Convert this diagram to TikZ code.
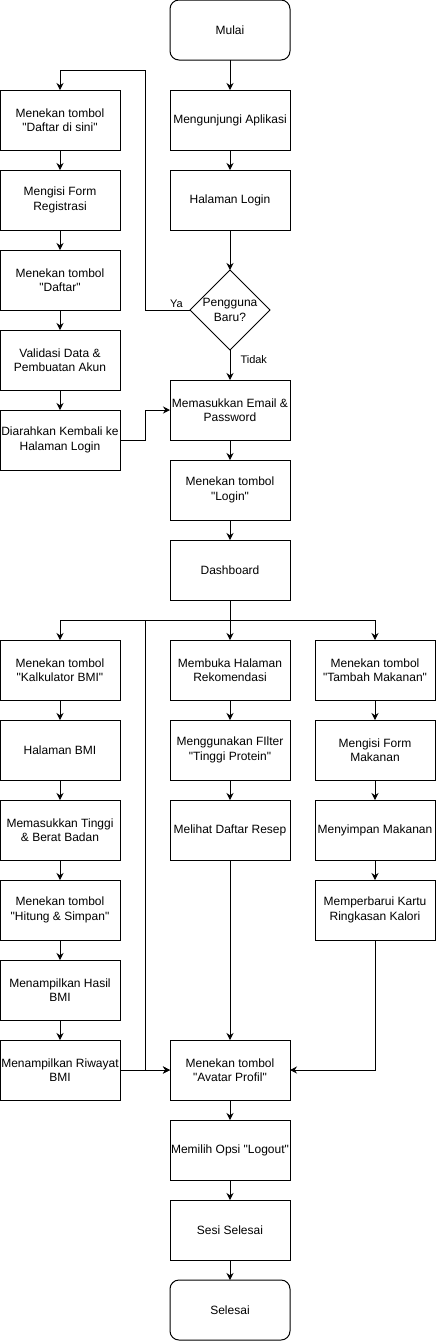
\documentclass[tikz,border=0pt]{standalone}
\usepackage{fontspec}
\setmainfont{Liberation Sans}[Ligatures=TeXOff]
\usetikzlibrary{arrows.meta,positioning,shapes.geometric}
\tikzset{
    stepbox/.style={draw,line width=1pt,minimum width=120pt,minimum height=60pt,
      inner sep=0.5pt,outer sep=0pt,align=center,font=\fontsize{12}{14.5}\selectfont},
    terminal/.style={stepbox,rounded corners=9pt},
    decision/.style={draw,diamond,aspect=1,line width=1pt,minimum width=80pt,
      minimum height=80pt,inner sep=-3pt,outer sep=0pt,align=center,
      font=\fontsize{12}{14.5}\selectfont},
    flowarrow/.style={-{Stealth[length=7pt,width=7pt]},line width=1pt},
    edgelabel/.style={inner sep=2pt,font=\fontsize{11}{13}\selectfont}
}
\begin{document}
\begin{tikzpicture}[x=1pt,y=-1pt,node distance=20pt]
  \useasboundingbox (0,0) rectangle (437,1342);
  % main column
  \node[terminal] (mulai) at (230,30) {Mulai};
  \node[stepbox] (aplikasi) at (230,120) {Mengunjungi Aplikasi};
  \node[stepbox,below=of aplikasi] (login) {Halaman Login};
  \node[decision] (baru) at (230,310) {Pengguna\\Baru?};
  \node[stepbox] (email) at (230,410) {Memasukkan Email \&\\Password};
  \node[stepbox,below=of email] (tombollogin) {Menekan tombol\\"Login"};
  \node[stepbox,below=of tombollogin] (dashboard) {Dashboard};
  % registration
  \node[stepbox] (daftarsini) at (60,120) {Menekan tombol\\"Daftar di sini"};
  \node[stepbox,below=of daftarsini] (formreg) {Mengisi Form\\Registrasi};
  \node[stepbox,below=of formreg] (daftar) {Menekan tombol\\"Daftar"};
  \node[stepbox,below=of daftar] (validasi) {Validasi Data \&\\Pembuatan Akun};
  \node[stepbox,below=of validasi] (arahkan) {Diarahkan Kembali ke\\Halaman Login};
  % BMI
  \node[stepbox] (kalkulator) at (60,670) {Menekan tombol\\"Kalkulator BMI"};
  \node[stepbox,below=of kalkulator] (halbmi) {Halaman BMI};
  \node[stepbox,below=of halbmi] (tinggi) {Memasukkan Tinggi\\\& Berat Badan};
  \node[stepbox,below=of tinggi] (hitung) {Menekan tombol\\"Hitung \& Simpan"};
  \node[stepbox,below=of hitung] (hasil) {Menampilkan Hasil\\BMI};
  \node[stepbox,below=of hasil] (riwayat) {Menampilkan Riwayat\\BMI};
  % rekomendasi
  \node[stepbox] (rekomendasi) at (230,670) {Membuka Halaman\\Rekomendasi};
  \node[stepbox,below=of rekomendasi] (filter) {Menggunakan FIlter\\"Tinggi Protein"};
  \node[stepbox,below=of filter] (resep) {Melihat Daftar Resep};
  % makanan
  \node[stepbox] (tambah) at (375,670) {Menekan tombol\\"Tambah Makanan"};
  \node[stepbox,below=of tambah] (formmakan) {Mengisi Form\\Makanan};
  \node[stepbox,below=of formmakan] (simpan) {Menyimpan Makanan};
  \node[stepbox,below=of simpan] (kartu) {Memperbarui Kartu\\Ringkasan Kalori};
  % logout
  \node[stepbox] (avatar) at (230,1070) {Menekan tombol\\"Avatar Profil"};
  \node[stepbox,below=of avatar] (logout) {Memilih Opsi "Logout"};
  \node[stepbox,below=of logout] (sesi) {Sesi Selesai};
  \node[terminal,below=of sesi] (selesai) {Selesai};

  \coordinate (yabalik) at (145,70);
  \coordinate (cabang) at (230,620);
  \coordinate (jalur) at (145,1070);

  \draw[flowarrow] (mulai) -- (aplikasi);
  \draw[flowarrow] (aplikasi) -- (login);
  \draw[flowarrow] (login) -- (baru);
  \draw[flowarrow] (baru.west) -- node[edgelabel,above,pos=0.3] {Ya} (yabalik |- baru.west)
    -- (yabalik) -| (daftarsini);
  \draw[flowarrow] (baru) -- node[edgelabel,right=8pt,pos=0.33] {Tidak} (email);
  \draw[flowarrow] (daftarsini) -- (formreg);
  \draw[flowarrow] (formreg) -- (daftar);
  \draw[flowarrow] (daftar) -- (validasi);
  \draw[flowarrow] (validasi) -- (arahkan);
  \draw[flowarrow] (arahkan.east) -- (yabalik |- arahkan.east) |- (email.west);
  \draw[flowarrow] (email) -- (tombollogin);
  \draw[flowarrow] (tombollogin) -- (dashboard);
  \draw (dashboard) -- (cabang);
  \draw[flowarrow] (cabang) -| (kalkulator);
  \draw[flowarrow] (cabang) -- (rekomendasi);
  \draw[flowarrow] (cabang) -| (tambah);
  \draw[flowarrow] (cabang) -| (jalur) -- (avatar.west);
  \draw[flowarrow] (kalkulator) -- (halbmi);
  \draw[flowarrow] (halbmi) -- (tinggi);
  \draw[flowarrow] (tinggi) -- (hitung);
  \draw[flowarrow] (hitung) -- (hasil);
  \draw[flowarrow] (hasil) -- (riwayat);
  \draw[flowarrow] (riwayat) -- (avatar);
  \draw[flowarrow] (rekomendasi) -- (filter);
  \draw[flowarrow] (filter) -- (resep);
  \draw[flowarrow] (resep) -- (avatar);
  \draw[flowarrow] (tambah) -- (formmakan);
  \draw[flowarrow] (formmakan) -- (simpan);
  \draw[flowarrow] (simpan) -- (kartu);
  \draw[flowarrow] (kartu) |- (avatar);
  \draw[flowarrow] (avatar) -- (logout);
  \draw[flowarrow] (logout) -- (sesi);
  \draw[flowarrow] (sesi) -- (selesai);
\end{tikzpicture}
\end{document}
